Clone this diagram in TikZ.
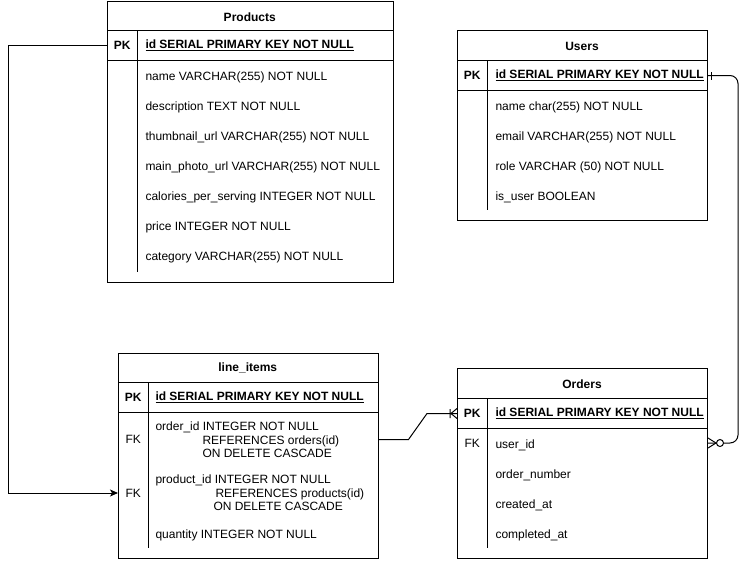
\documentclass[tikz,border=0pt]{standalone}
\usepackage{fontspec}
\setmainfont{Liberation Sans}
\usetikzlibrary{arrows.meta}

\tikzset{
  tbl/.style={draw, anchor=north west, inner sep=0pt},
  row/.style={anchor=north west, inner sep=0pt},
  bold/.style={font=\fontsize{12}{13.5}\selectfont\bfseries},
  tblname/.style={bold, yshift=-1pt},
  keycol/.style={inner sep=0pt},
  fld/.style={anchor=west, inner sep=0pt, yshift=-2pt},
  fldm/.style={anchor=west, inner sep=0pt, align=left},
}

\begin{document}
\begin{tikzpicture}[x=1pt,y=-1pt,line width=1pt,
    every node/.style={font=\fontsize{12}{13.5}\selectfont}]
  \useasboundingbox (0,0) rectangle (747,560);

  % Products
  \node[tbl, minimum width=285.5pt, minimum height=280.5pt] (prod) at (107,1) {};
  \node[tblname] (prodname) at (249.75,16) {Products};
  \draw (107,30.5) -- (392.5,30.5);
  \draw (107,60) -- (392.5,60);
  \draw (137.5,30.5) -- (137.5,271.5);
  \node[row, minimum width=285.5pt, minimum height=29.5pt] (prodpk) at (107,30.5) {};
  \node[keycol, bold] (prodpkl) at (122.25,45.5) {PK};
  \node[fldm, bold] (prodid) at (145,45.5) {\underline{id SERIAL PRIMARY KEY NOT NULL}};
  \foreach \t [count=\i] in {name VARCHAR(255) NOT NULL, description TEXT NOT NULL,
      thumbnail\_url VARCHAR(255) NOT NULL, main\_photo\_url VARCHAR(255) NOT NULL,
      calories\_per\_serving INTEGER NOT NULL, price INTEGER NOT NULL,
      category VARCHAR(255) NOT NULL}
    \node[fld] (prodf\i) at (145,45+30*\i) {\t};

  % Users
  \node[tbl, minimum width=250pt, minimum height=190pt] (usr) at (457,30) {};
  \node[tblname] (usrname) at (582,45) {Users};
  \draw (457,60) -- (707,60);
  \draw (457,90) -- (707,90);
  \draw (487.5,60) -- (487.5,210);
  \node[row, minimum width=250pt, minimum height=30pt] (usrpk) at (457,60) {};
  \node[keycol, bold] (usrpkl) at (472.25,75) {PK};
  \node[fldm, bold] (usrid) at (495,75) {\underline{id SERIAL PRIMARY KEY NOT NULL}};
  \foreach \t [count=\i] in {name char(255) NOT NULL, email VARCHAR(255) NOT NULL,
      role VARCHAR (50) NOT NULL, is\_user BOOLEAN}
    \node[fld] (usrf\i) at (495,75+30*\i) {\t};

  % line_items
  \node[tbl, minimum width=259.5pt, minimum height=205pt] (li) at (118,352.5) {};
  \node[tblname] (liname) at (247.75,367) {line\_items};
  \draw (118,382) -- (377.5,382);
  \draw (118,412.5) -- (377.5,412.5);
  \draw (148.5,382) -- (148.5,548);
  \node[keycol, bold] (lipkl) at (133.25,397.5) {PK};
  \node[fldm, bold] (liid) at (155,397.5) {\underline{id SERIAL PRIMARY KEY NOT NULL}};
  \node[keycol] (lifk1) at (133.25,439.5) {FK};
  \node[fldm] (lif1) at (155,440) {order\_id INTEGER NOT NULL\\
    \hspace*{47pt}REFERENCES orders(id)\\\hspace*{47pt}ON DELETE CASCADE};
  \node[keycol] (lifk2) at (133.25,493) {FK};
  \node[fldm] (lif2) at (155,493) {product\_id INTEGER NOT NULL\\
    \hspace*{60pt}REFERENCES products(id)\\\hspace*{58pt}ON DELETE CASCADE};
  \node[fld] (lif3) at (155,533) {quantity INTEGER NOT NULL};

  % Orders
  \node[tbl, minimum width=250pt, minimum height=189.5pt] (ord) at (457,368) {};
  \node[tblname] (ordname) at (582,383) {Orders};
  \draw (457,398) -- (707,398);
  \draw (457,428) -- (707,428);
  \draw (487.5,398) -- (487.5,548);
  \node[row, minimum width=250pt, minimum height=30pt] (ordpk) at (457,398) {};
  \node[keycol, bold] (ordpkl) at (472.25,413) {PK};
  \node[fldm, bold] (ordid) at (495,413) {\underline{id SERIAL PRIMARY KEY NOT NULL}};
  \node[keycol] (ordfk) at (472.25,443) {FK};
  \foreach \t [count=\i] in {user\_id, order\_number, created\_at, completed\_at}
    \node[fld] (ordf\i) at (495,413+30*\i) {\t};

  % relations
  \draw[-{Stealth[length=8pt,width=7pt,inset=2pt]}] (prodpk.west) -- ++(-99,0) |- (li.west |- lifk2);

  \draw (li.east |- lifk1) -- ++(30,0) -- ([xshift=-30pt]ordpk.west) -- (ordpk.west);
  \draw ([xshift=-6pt]ordpk.west) -- ++(6,-5) ([xshift=-6pt]ordpk.west) -- ++(6,5)
    ([xshift=-7pt,yshift=-4.5pt]ordpk.west) -- ++(0,-9);

  \draw[rounded corners=8pt] (usrpk.east) -- ++(30,0) |- (ord.east |- ordfk);
  \draw ([xshift=3pt,yshift=-4pt]usrpk.east) -- ++(0,-8);
  \draw ([xshift=8pt]ord.east |- ordfk) -- ++(-8,-5) ([xshift=8pt]ord.east |- ordfk) -- ++(-8,5);
  \draw[fill=white] ([xshift=12pt]ord.east |- ordfk) circle (3.5pt);
\end{tikzpicture}
\end{document}
